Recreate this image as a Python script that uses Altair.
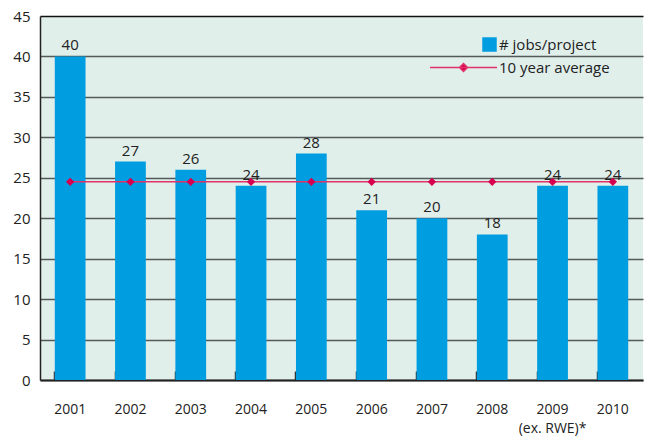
import altair as alt
import pandas as pd

years = ["2001", "2002", "2003", "2004", "2005", "2006", "2007", "2008", "2009", "2010"]
jobs = [40, 27, 26, 24, 28, 21, 20, 18, 24, 24]
avg = [24.5] * 10
y_ticks = list(range(0, 50, 5))

bar_name = "# jobs/project"
avg_name = "10 year average"

df = pd.DataFrame({"year": years, "jobs": jobs, "avg": avg,
                   "s1": bar_name, "s2": avg_name})

FONT = "Open Sans"
BLUE = "#009ee0"
RED = "#e0336a"
REDD = "#d6004f"

x = alt.X("year:N", title=None,
          scale=alt.Scale(paddingInner=0.49, paddingOuter=0.245),
          axis=alt.Axis(labelAngle=0, labelFontSize=14, labelFont=FONT, labelColor="#222",
                        labelPadding=31, labelLineHeight=19, bandPosition=0,
                        tickSize=alt.ExprRef("-9"), tickColor="#333", tickWidth=1.5,
                        domainColor="#222", domainWidth=2,
                        labelExpr="datum.value == '2009' ? ['2009', '(ex. RWE)*'] : datum.value"))

y_scale = alt.Scale(domain=[0, 45], nice=False)
y_axis = alt.Axis(values=y_ticks, title=None, labelFontSize=15, labelFont=FONT, labelColor="#222",
                  labelPadding=10, ticks=False, domainColor="#222", domainWidth=1.5,
                  gridColor={"condition": {"test": "datum.value === 45", "value": "#111"}, "value": "#535a57"},
                  gridWidth=1.6)

bars = alt.Chart(df).mark_bar(color=BLUE).encode(
    x=x,
    y=alt.Y("jobs:Q", scale=y_scale, axis=y_axis),
    fill=alt.Fill("s1:N", scale=alt.Scale(domain=[bar_name], range=[BLUE]),
                  legend=alt.Legend(title=None, orient="none", legendX=442, legendY=21,
                                    symbolType="square", symbolSize=210, symbolStrokeWidth=0,
                                    labelFontSize=15, labelFont=FONT, labelColor="#222", labelOffset=2)),
)

labels = alt.Chart(df).mark_text(baseline="bottom", dy=-3, fontSize=15, font=FONT, color="#222").encode(
    x="year:N", y=alt.Y("jobs:Q", scale=y_scale), text="jobs:Q")

line = alt.Chart(df).mark_line(strokeWidth=1.5).encode(
    x="year:N", y=alt.Y("avg:Q", scale=y_scale),
    stroke=alt.Stroke("s2:N", scale=alt.Scale(domain=[avg_name], range=[RED]),
                      legend=alt.Legend(title=None, orient="none", legendX=389, legendY=17,
                                        symbolType="M-1,0L1,0M0,-0.12L0.12,0L0,0.12L-0.12,0Z",
                                        symbolSize=4500, symbolStrokeWidth=1.5,
                                        symbolFillColor=REDD,
                                        labelFontSize=15, labelFont=FONT, labelColor="#222", labelOffset=1)),
)

pts = alt.Chart(df).mark_point(shape="diamond", filled=True, color=REDD, size=70, opacity=1).encode(
    x="year:N", y=alt.Y("avg:Q", scale=y_scale))

chart = alt.layer(bars, labels, line, pts).properties(
    width=603, height=364,
    autosize=alt.AutoSizeParams(type="none"),
    padding={"left": 40, "top": 16, "right": 3, "bottom": 57},
    background="white",
).configure_view(fill="#e1efeb", stroke=None)

chart.save("out.html", embed_options={"renderer": "svg", "actions": False})
